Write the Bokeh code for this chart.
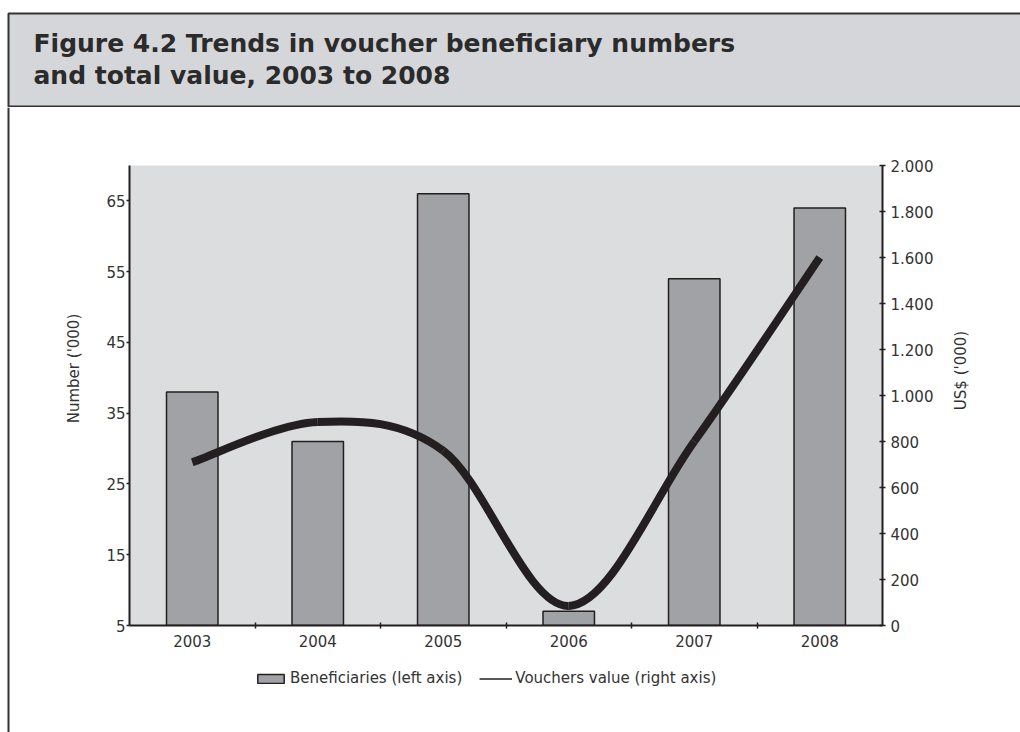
import math
from bokeh.plotting import figure
from bokeh.layouts import column, row
from bokeh.models import (Range1d, LinearAxis, FixedTicker, Legend, LegendItem,
                          ColumnDataSource)
from bokeh.core.properties import value
from bokeh.embed import file_html
from bokeh.resources import INLINE

# ---------------- data ----------------
years = ["2003", "2004", "2005", "2006", "2007", "2008"]
beneficiaries = [38, 31, 66, 7, 54, 64]          # '000 (left axis)
voucher_value = [710, 885, 760, 85, 800, 1600]   # US$ '000 (right axis)
left_ticks = [5, 15, 25, 35, 45, 55, 65]
right_ticks = [0, 200, 400, 600, 800, 1000, 1200, 1400, 1600, 1800, 2000]
title_lines = ["Figure 4.2 Trends in voucher beneficiary numbers",
               "and total value, 2003 to 2008"]
left_label = "Number ('000)"
right_label = "US$ ('000)"
bar_legend = "Beneficiaries (left axis)"
line_legend = "Vouchers value (right axis)"

# ---------------- styling / layout ----------------
W, H = 1020, 732
TH = 107                 # title strip height
LW, RW = 100, 80         # left / right strips
MW, MH = W - LW - RW, H - TH
BH = 77                  # legend strip height
PH = MH - BH             # main plot height
DARK = "#231f20"
FRAME = "#333333"
TXT = "#333333"
FONT = "DejaVu Sans"
FS = "15px"


def blank(w, h):
    f = figure(width=w, height=h, output_backend="svg", toolbar_location=None,
               x_range=Range1d(0, w), y_range=Range1d(h, 0),
               x_axis_type=None, y_axis_type=None, min_border=0)
    f.outline_line_color = None
    f.background_fill_color = "white"
    f.border_fill_color = "white"
    return f


# ---- title strip ----
T = blank(W, TH)
T.quad(left=8, right=W + 20, top=13, bottom=106, fill_color="#d5d6d9",
       line_color=FRAME, line_width=2)
T.text(x=[33, 33], y=[43, 75], text=title_lines, text_font=value(FONT),
       text_font_style="bold", text_font_size="25px", text_color="#2b2b2b",
       text_baseline="alphabetic")

# ---- left strip ----
L = blank(LW, MH)
L.segment(x0=[8], y0=[0], x1=[8], y1=[MH], line_color=FRAME, line_width=2)
L.text(x=[73], y=[368 - TH], text=[left_label], angle=math.pi / 2,
       text_align="center", text_baseline="middle", text_font=value(FONT),
       text_font_size=FS, text_color=TXT)

# ---- right strip ----
R = blank(RW, MH)
R.text(x=[20], y=[370 - TH], text=[right_label], angle=math.pi / 2,
       text_align="center", text_baseline="middle", text_font=value(FONT),
       text_font_size=FS, text_color=TXT)

# ---- main chart ----
xs = list(range(len(years)))
src = ColumnDataSource(dict(x=xs, year=years, ben=beneficiaries, val=voucher_value))

p = figure(width=MW, height=PH, output_backend="svg", toolbar_location=None,
           x_range=Range1d(-0.5, len(years) - 0.5),
           y_range=Range1d(left_ticks[0], 70),
           min_border_left=29, min_border_right=58,
           min_border_top=165 - TH, min_border_bottom=PH - (625 - TH))
p.background_fill_color = "#dcdddf"
p.border_fill_color = "white"
p.outline_line_color = None
p.grid.visible = False
p.extra_y_ranges = {"usd": Range1d(right_ticks[0], right_ticks[-1])}

xa = p.xaxis[0]
xa.ticker = FixedTicker(ticks=xs, minor_ticks=[i + 0.5 for i in xs[:-1]])
xa.major_label_overrides = {i: y for i, y in enumerate(years)}
xa.major_tick_in = 0
xa.major_tick_out = 0
xa.minor_tick_in = 3
xa.minor_tick_out = 3
xa.minor_tick_line_color = DARK
xa.minor_tick_line_width = 1.5
xa.axis_line_color = DARK
xa.axis_line_width = 2
xa.major_label_standoff = 6
xa.major_label_text_font = FONT
xa.major_label_text_font_size = FS
xa.major_label_text_color = TXT

ya = p.yaxis[0]
ya.ticker = FixedTicker(ticks=left_ticks)
ya.major_tick_in = 0
ya.major_tick_out = 3
ya.major_tick_line_color = DARK
ya.major_tick_line_width = 1.5
ya.minor_tick_line_color = None
ya.axis_line_color = DARK
ya.axis_line_width = 2
ya.major_label_standoff = 1
ya.major_label_text_font = FONT
ya.major_label_text_font_size = FS
ya.major_label_text_color = TXT

ra = LinearAxis(y_range_name="usd", ticker=FixedTicker(ticks=right_ticks),
                major_label_overrides={v: f"{v:,}".replace(",", ".") for v in right_ticks})
ra.major_tick_in = 3
ra.major_tick_out = 3
ra.major_tick_line_color = DARK
ra.major_tick_line_width = 1.5
ra.minor_tick_line_color = None
ra.axis_line_color = DARK
ra.axis_line_width = 2
ra.major_label_standoff = 5
ra.major_label_text_font = FONT
ra.major_label_text_font_size = FS
ra.major_label_text_color = TXT
p.add_layout(ra, "right")

BAR_STYLE = dict(fill_color="#a1a2a6", line_color=DARK, line_width=1.5)
bars = p.vbar(x="x", top="ben", bottom=left_ticks[0], width=0.41, source=src, **BAR_STYLE)

# Excel-style smoothed line: cubic bezier segments through the data points
n = len(voucher_value)
seg = dict(x0=[], y0=[], x1=[], y1=[], cx0=[], cy0=[], cx1=[], cy1=[])
for i in range(n - 1):
    ip, inn = max(i - 1, 0), min(i + 2, n - 1)
    seg["x0"].append(xs[i]); seg["y0"].append(voucher_value[i])
    seg["x1"].append(xs[i + 1]); seg["y1"].append(voucher_value[i + 1])
    seg["cx0"].append(xs[i] + (xs[i + 1] - xs[ip]) / 6)
    seg["cy0"].append(voucher_value[i] + (voucher_value[i + 1] - voucher_value[ip]) / 6)
    seg["cx1"].append(xs[i + 1] - (xs[inn] - xs[i]) / 6)
    seg["cy1"].append(voucher_value[i + 1] - (voucher_value[inn] - voucher_value[i]) / 6)
p.bezier(source=ColumnDataSource(seg), x0="x0", y0="y0", x1="x1", y1="y1",
         cx0="cx0", cy0="cy0", cx1="cx1", cy1="cy1",
         y_range_name="usd", line_color=DARK, line_width=8, line_cap="butt")

# ---- legend strip (hidden key renderers with the series' data and styling) ----
B = blank(MW, BH)
kb = B.vbar(x=xs, top=beneficiaries, width=0.41, visible=False, **BAR_STYLE)
kl = B.line(x=xs, y=voucher_value, line_color=DARK, line_width=1.5, visible=False)
legend = Legend(items=[LegendItem(label=bar_legend, renderers=[kb]),
                       LegendItem(label=line_legend, renderers=[kl])],
                orientation="horizontal", location=(154, 45),
                padding=0, margin=0, spacing=17, label_standoff=3,
                glyph_width=33, glyph_height=11,
                border_line_color=None, background_fill_alpha=0,
                inactive_fill_alpha=0,
                label_text_font=FONT, label_text_font_size=FS,
                label_text_color=TXT)
B.add_layout(legend, "center")

layout = column(T, row(column(L), column(p, column(B)), column(R)))
open("out.html", "w").write(file_html(layout, INLINE))
